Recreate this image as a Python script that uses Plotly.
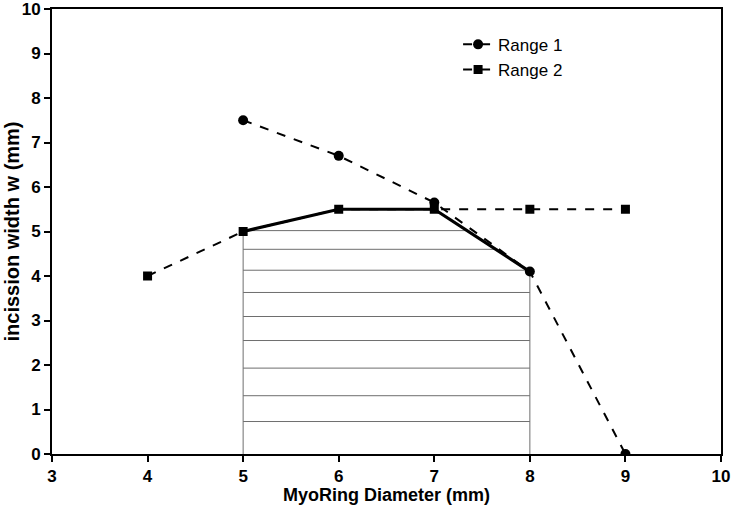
import numpy as np
import plotly.graph_objects as go

# Data
range1_x = [5, 6, 7, 8, 9]
range1_y = [7.5, 6.7, 5.65, 4.1, 0.0]
range2_x = [4, 5, 6, 7, 8, 9]
range2_y = [4.0, 5.0, 5.5, 5.5, 5.5, 5.5]
bound_x = [5, 6, 7, 8]
bound_y = [5.0, 5.5, 5.5, 4.1]
hatch_levels = [5.02, 4.60, 4.13, 3.63, 3.09, 2.55, 1.93, 1.31, 0.73]
x_ticks = [3, 4, 5, 6, 7, 8, 9, 10]
y_ticks = [0, 1, 2, 3, 4, 5, 6, 7, 8, 9, 10]

FONT = "Arial, Liberation Sans, sans-serif"

fig = go.Figure()

# Hatch lines inside the region under the boundary
bx = np.array(bound_x, dtype=float)
by = np.array(bound_y, dtype=float)
fine_x = np.linspace(bx[0], bx[-1], 3001)
fine_y = np.interp(fine_x, bx, by)
hx, hy = [], []
for h in hatch_levels:
    inside = fine_x[fine_y >= h - 0.03]
    if len(inside) == 0:
        continue
    hx += [bx[0], inside.max(), None]
    hy += [h, h, None]
hx += [bx[0], bx[0], None, bx[-1], bx[-1], None]
hy += [0, by[0], None, 0, by[-1], None]
fig.add_trace(go.Scatter(x=hx, y=hy, mode="lines",
                         line=dict(color="#6e6e6e", width=1),
                         showlegend=False, hoverinfo="skip"))

fig.add_trace(go.Scatter(x=range1_x, y=range1_y, mode="lines+markers", name="Range 1",
                         line=dict(color="black", width=2, dash="dash"),
                         marker=dict(symbol="circle", size=10, color="black")))
fig.add_trace(go.Scatter(x=range2_x, y=range2_y, mode="lines+markers", name="Range 2",
                         line=dict(color="black", width=2, dash="dash"),
                         marker=dict(symbol="square", size=9, color="black")))
fig.add_trace(go.Scatter(x=bound_x, y=bound_y, mode="lines",
                         line=dict(color="black", width=3.2),
                         showlegend=False, hoverinfo="skip"))

axis_common = dict(showgrid=False, zeroline=False, showline=True, mirror=True,
                   linecolor="black", linewidth=2, ticks="outside", ticklen=6,
                   tickwidth=2, tickcolor="black", automargin=False,
                   ticklabeloverflow="allow",
                   tickfont=dict(size=17, family=FONT, color="black", weight="bold"))

fig.update_layout(
    width=732, height=509,
    margin=dict(l=52, r=11, t=9, b=55),
    paper_bgcolor="white", plot_bgcolor="white",
    font=dict(family=FONT, color="black"),
    legend=dict(x=0.607, y=0.96, xanchor="left", yanchor="top",
                font=dict(size=17, family=FONT), bgcolor="rgba(0,0,0,0)",
                itemwidth=30),
    xaxis=dict(range=[3, 10], tickvals=x_ticks,
               ticktext=[f"<b>{v}</b>" for v in x_ticks], **axis_common),
    yaxis=dict(range=[0, 10], tickvals=y_ticks,
               ticktext=[f"<b>{v}</b>" for v in y_ticks], **axis_common),
    annotations=[
        dict(text="<b>MyoRing Diameter (mm)</b>", xref="paper", yref="paper",
             x=0.5, y=-0.092, xanchor="center", yanchor="middle", showarrow=False,
             font=dict(size=18, family=FONT, color="black")),
        dict(text="<b>incission width w (mm)</b>", xref="paper", yref="paper",
             x=-0.0598, y=0.5, xanchor="center", yanchor="middle", showarrow=False,
             textangle=-90, font=dict(size=20, family=FONT, color="black")),
    ],
)

fig.write_html("out.html", config={"displayModeBar": False})

# remove the default page margin so the figure sits at the window's top-left corner
with open("out.html", "r", encoding="utf-8") as f:
    html = f.read()
html = html.replace("<head>", "<head><style>html,body{margin:0;padding:0;overflow:hidden;}</style>", 1)
with open("out.html", "w", encoding="utf-8") as f:
    f.write(html)
